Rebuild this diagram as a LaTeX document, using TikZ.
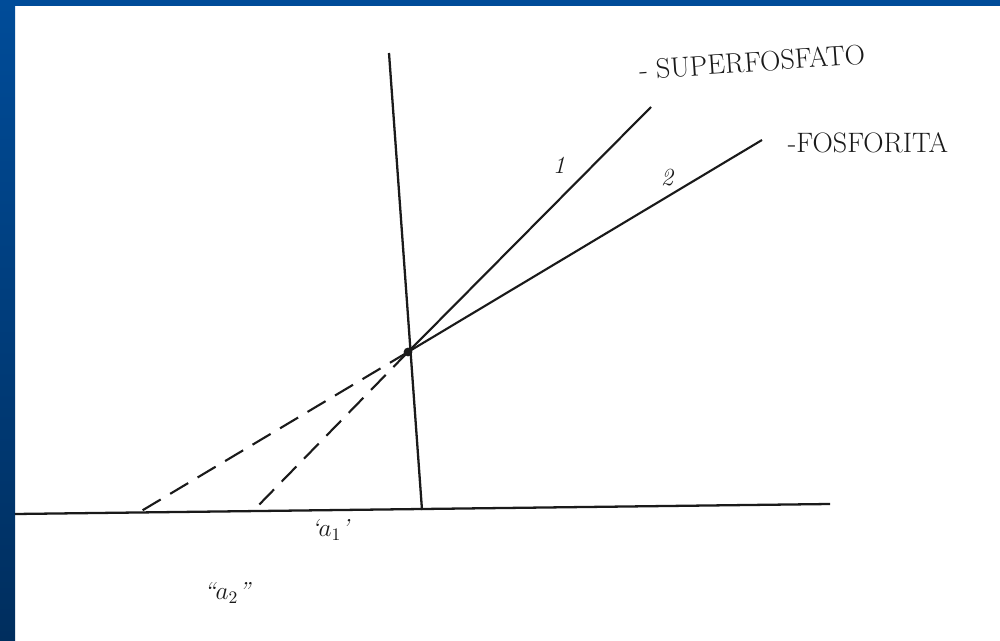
\documentclass[tikz,border=0pt]{standalone}
\usepackage{tikz}
\usetikzlibrary{positioning}
\definecolor{frameblue}{HTML}{004C99}
\definecolor{framedark}{HTML}{002E5E}
\definecolor{ink}{HTML}{1A1A1A}
\tikzset{
  axis/.style={draw=ink, line width=1.3pt},
  curve/.style={draw=ink, line width=1.2pt},
  trend/.style={draw=ink, line width=1.2pt, dash pattern=on 0.42cm off 0.22cm},
  lbl/.style={font=\fontsize{16}{18}\selectfont, text=ink, inner sep=1pt},
  num/.style={font=\fontsize{14}{16}\selectfont\itshape, text=ink, inner sep=1pt},
}

\begin{document}
\begin{tikzpicture}[x=0.02cm, y=-0.02cm]
  % frame
  \useasboundingbox (0,0) rectangle (1000,641);
  \fill[white] (0,0) rectangle (1000,641);
  \fill[frameblue] (0,0) rectangle (1000,6);
  \shade[top color=frameblue, bottom color=framedark] (0,0) rectangle (15,641);

  % axes and the crossing point
  \coordinate (ytop)   at (389,53);
  \coordinate (ybot)   at (422,510);
  \coordinate (xleft)  at (15,514);
  \coordinate (xright) at (830,504);
  \coordinate (cross)  at (408,352);
  \draw[axis] (ytop) -- (ybot);
  \draw[axis] (xleft) -- (xright);

  % the two lines and their dashed extensions
  \coordinate (supend) at (651,107);
  \coordinate (fosend) at (762,140);
  \coordinate (cut2)   at (138,513);
  \coordinate (cut1)   at (253,511);
  \draw[curve] (cross) -- (supend);
  \draw[curve] (cross) -- (fosend);
  \draw[trend] (cross) -- (cut2);
  \draw[trend] (cross) -- (cut1);
  \fill[ink] (cross) circle[radius=2.5pt];

  % labels
  \node[lbl, rotate=4] (suplbl) at (752,62) {- SUPERFOSFATO};
  \node[lbl] (foslbl) at (868,143) {-FOSFORITA};
  \node[num] (one) at (559,165) {1};
  \node[num] (two) at (667,178) {2};
  \node[num] (alpha1) at (330,530) {`$a_1$'};
  \node[num] (alpha2) at (227,593) {``$a_2$''};
\end{tikzpicture}
\end{document}
